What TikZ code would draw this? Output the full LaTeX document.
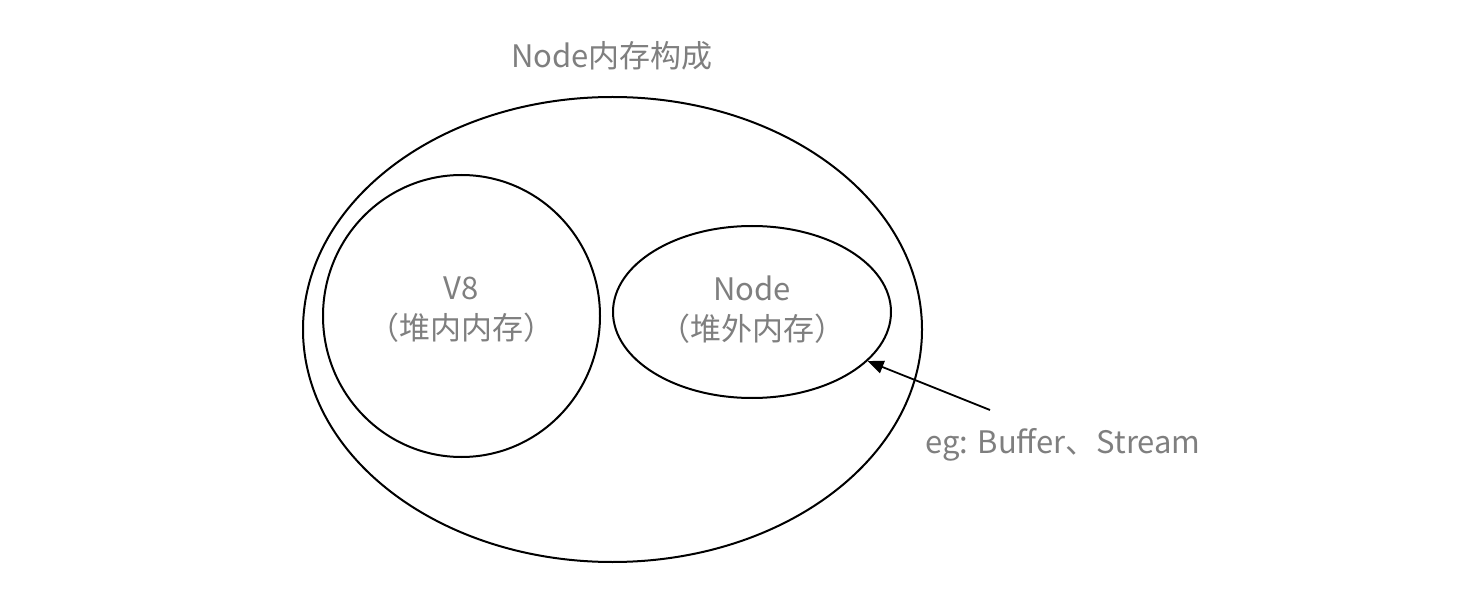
\documentclass[tikz,border=0pt]{standalone}
\usepackage{fontspec}
\setmainfont{Noto Sans CJK SC}
\usepackage{xcolor}
\usetikzlibrary{
    arrows.meta,
    shapes,
    positioning,
    calc
}
\definecolor{textgray}{HTML}{7F7F7F}

\begin{document}
\begin{tikzpicture}[x=0.5pt, y=-0.5pt,
        every node/.style={text=textgray, font=\fontsize{15.5pt}{20pt}\selectfont},
        blob/.style={draw=black, line width=1pt, ellipse, inner sep=0pt}]
                \useasboundingbox (0, 0) rectangle (1484, 604);
                \node (title) at (612, 56) {Node内存构成};
                \node [blob, minimum width=619pt*0.5, minimum height=465pt*0.5] (mem) at (612.5, 329.5) {};
                \node [blob, minimum width=277pt*0.5, minimum height=282pt*0.5] (heap) at (461.5, 316) {};
                \node [blob, minimum width=278pt*0.5, minimum height=172pt*0.5] (offheap) at (752, 312) {};
                \node [align=center] (heaptext) at (461.5, 310) {V8\\（堆内内存）};
                \node [align=center] (offtext) at (752, 310) {Node\\（堆外内存）};
                \node (eg) at (1063, 445) {eg: Buffer、Stream};
                \coordinate (tail) at (990, 410);
                \draw [-{Triangle[length=8pt, width=6.5pt]}, line width=0.9pt] (tail) -- (offheap.-23);
            \end{tikzpicture}
\end{document}
